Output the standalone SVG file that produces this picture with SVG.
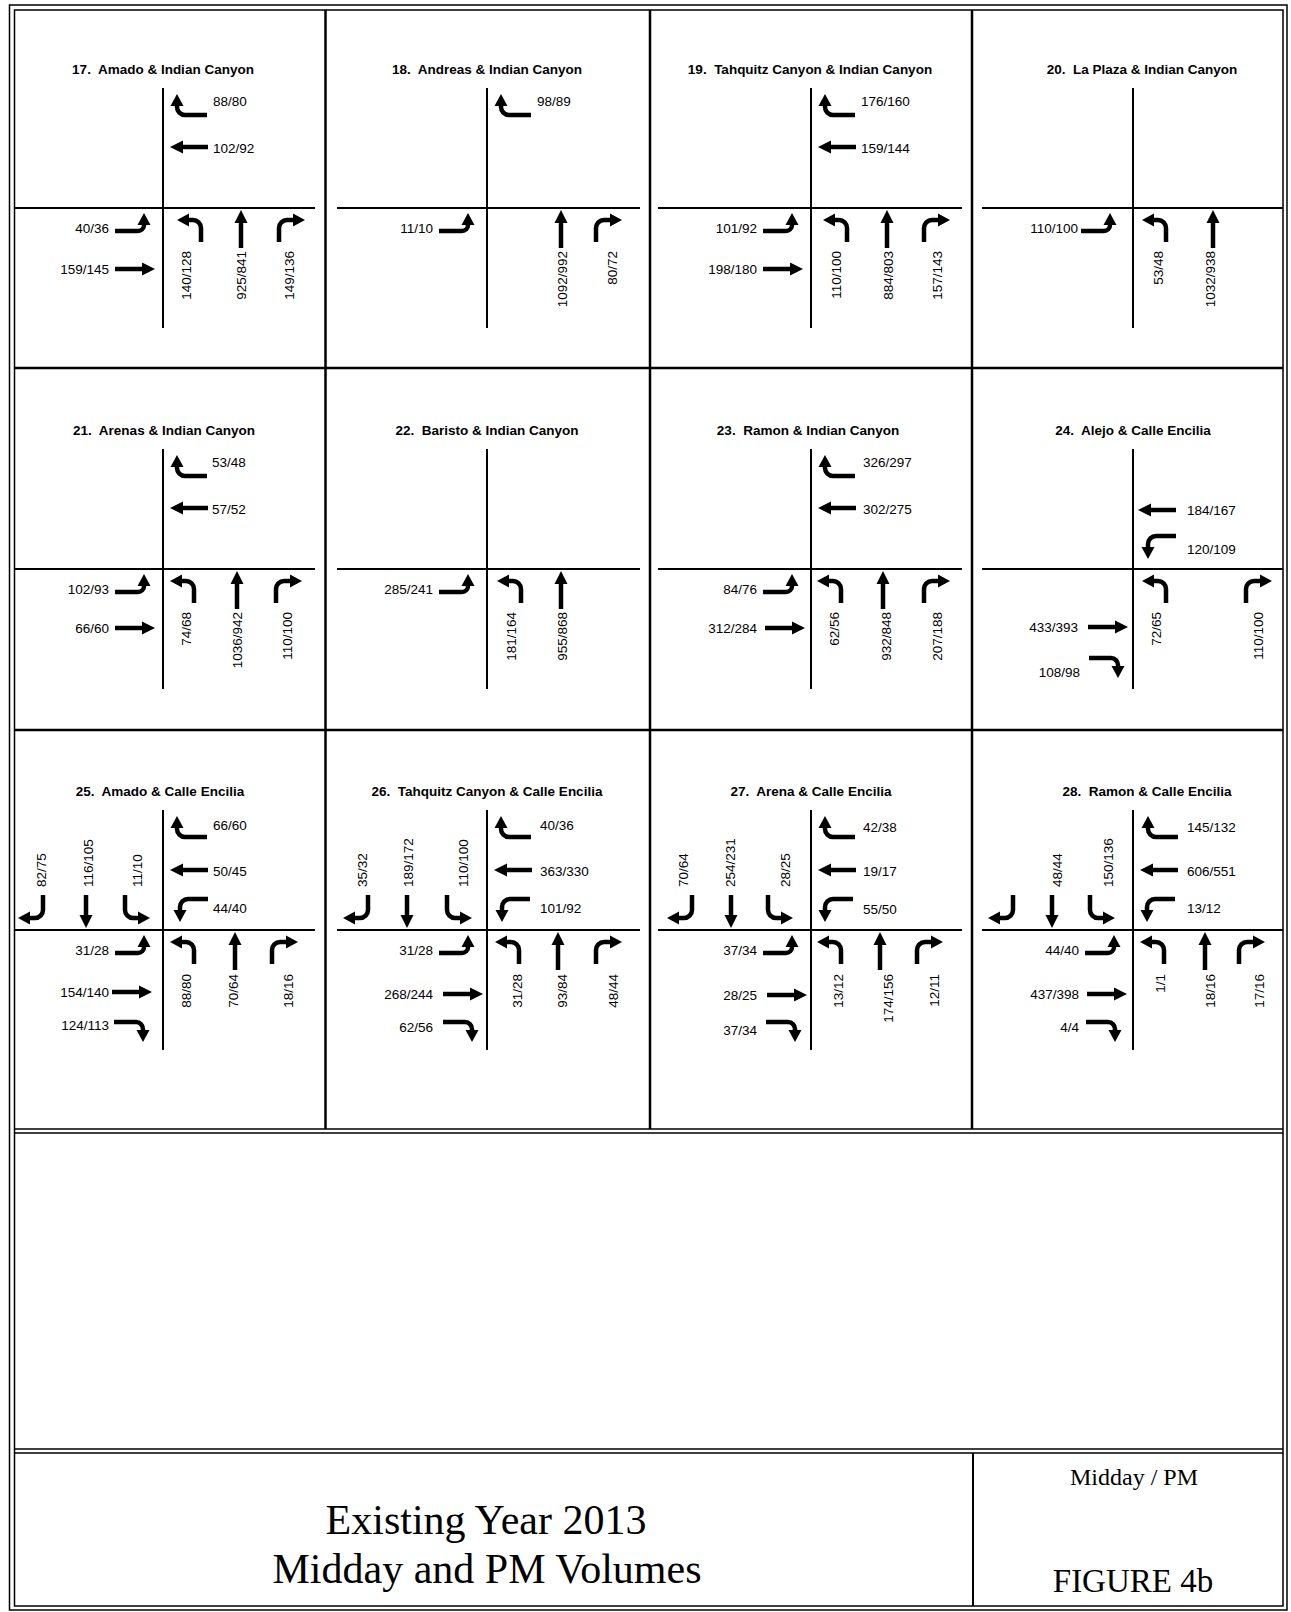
<svg xmlns="http://www.w3.org/2000/svg" width="1291" height="1612" viewBox="0 0 1291 1612">
<style>
.road{stroke:#000;stroke-width:2;fill:none}
.arr{stroke:#000;stroke-width:4.5;fill:none}
.hd{fill:#000}
.fr{stroke:#000;fill:none}
text{font-family:"Liberation Sans",Arial,sans-serif;font-size:13.5px;fill:#000}
.ttl{font-weight:bold;text-anchor:middle}
.e{text-anchor:end}
text.big{font-family:"Liberation Serif","Times New Roman",serif;text-anchor:middle;font-size:42px}
text.mid{font-size:24px}
text.fig{font-size:33px}
</style>
<defs>
<g id="nbT"><path class="arr" d="M0,11V38"/><path class="hd" d="M0,0L-6.5,13H6.5Z"/></g>
<g id="sbT"><path class="arr" d="M0,-11V-33"/><path class="hd" d="M0,0L-6.5,-13H6.5Z"/></g>
<g id="wbT"><path class="arr" d="M11,0H38"/><path class="hd" d="M0,0L13,-6.5V6.5Z"/></g>
<g id="ebT"><path class="arr" d="M-11,0H-40"/><path class="hd" d="M0,0L-13,-6.5V6.5Z"/></g>
<g id="wbR"><path class="arr" d="M30,21H8A8,8 0 0 1 0,13V10"/><path class="hd" d="M0,0L-6.5,12H6.5Z"/></g>
<g id="wbL"><path class="arr" d="M28,-23H8A8,8 0 0 0 0,-15V-10"/><path class="hd" d="M0,0L-6.5,-12H6.5Z"/></g>
<g id="ebL"><path class="arr" d="M-29,18H-6A6,6 0 0 0 0,12V10"/><path class="hd" d="M0,0L-6.5,12H6.5Z"/></g>
<g id="ebR"><path class="arr" d="M-29,-20H-7A7,7 0 0 1 0,-13V-10"/><path class="hd" d="M0,0L-6.5,-12H6.5Z"/></g>
<g id="nbL"><path class="arr" d="M24,22V8A8,8 0 0 0 16,0H10"/><path class="hd" d="M0,0L12,-6.5V6.5Z"/></g>
<g id="nbR"><path class="arr" d="M-26,22V8A8,8 0 0 1 -18,0H-10"/><path class="hd" d="M0,0L-12,-6.5V6.5Z"/></g>
<g id="sbR"><path class="arr" d="M25,-23V-8A8,8 0 0 1 17,0H10"/><path class="hd" d="M0,0L12,-6.5V6.5Z"/></g>
<g id="sbL"><path class="arr" d="M-25,-23V-8A8,8 0 0 0 -17,0H-10"/><path class="hd" d="M0,0L-12,-6.5V6.5Z"/></g>
</defs>
<rect width="1291" height="1612" fill="#fff"/>
<g id="frame">
<rect class="fr" x="9.5" y="5" width="1277.5" height="1605" stroke-width="1.5"/>
<rect class="fr" x="14.5" y="10" width="1268.5" height="1596" stroke-width="1.5"/>
<path class="fr" stroke-width="2.5" d="M325.5,10V1129M650,10V1129M972,10V1129M14,368H1283M14,730H1283"/>
<path class="fr" stroke-width="1.5" d="M14,1129H1283M14,1133H1283M14,1449H1283M14,1453H1283"/>
<path class="fr" stroke-width="2" d="M973,1453V1606"/>
</g>
<g id="connectors"/>

<g id="int17">
<path class="road" d="M163,88V328M15,208H315"/>
<text class="ttl" x="163" y="74">17.&#160; Amado &amp; Indian Canyon</text>
<use href="#wbR" x="177" y="94"/><text x="213" y="106">88/80</text>
<use href="#wbT" x="170" y="147"/><text x="213" y="153">102/92</text>
<use href="#ebL" x="144" y="213"/><text class="e" x="109" y="233">40/36</text>
<use href="#ebT" x="155" y="269"/><text class="e" x="109" y="274">159/145</text>
<use href="#nbL" x="177" y="220"/><text class="e" transform="translate(191,251) rotate(-90)">140/128</text>
<use href="#nbT" x="241" y="210"/><text class="e" transform="translate(246,251) rotate(-90)">925/841</text>
<use href="#nbR" x="305" y="220"/><text class="e" transform="translate(294,251) rotate(-90)">149/136</text>
</g>

<g id="int18">
<path class="road" d="M487,88V328M337,208H640"/>
<text class="ttl" x="487" y="74">18.&#160; Andreas &amp; Indian Canyon</text>
<use href="#wbR" x="501" y="94"/><text x="537" y="106">98/89</text>
<use href="#ebL" x="468" y="213"/><text class="e" x="433" y="233">11/10</text>
<use href="#nbT" x="561" y="210"/><text class="e" transform="translate(567,251) rotate(-90)">1092/992</text>
<use href="#nbR" x="622" y="220"/><text class="e" transform="translate(617,251) rotate(-90)">80/72</text>
</g>

<g id="int19">
<path class="road" d="M811,88V328M658,208H962"/>
<text class="ttl" x="810" y="74">19.&#160; Tahquitz Canyon &amp; Indian Canyon</text>
<use href="#wbR" x="825" y="94"/><text x="861" y="106">176/160</text>
<use href="#wbT" x="818" y="147"/><text x="861" y="153">159/144</text>
<use href="#ebL" x="792" y="213"/><text class="e" x="757" y="233">101/92</text>
<use href="#ebT" x="803" y="269"/><text class="e" x="757" y="274">198/180</text>
<use href="#nbL" x="823" y="220"/><text class="e" transform="translate(841,251) rotate(-90)">110/100</text>
<use href="#nbT" x="887" y="210"/><text class="e" transform="translate(893,251) rotate(-90)">884/803</text>
<use href="#nbR" x="950" y="220"/><text class="e" transform="translate(942,251) rotate(-90)">157/143</text>
</g>

<g id="int20">
<path class="road" d="M1133,88V328M982,208H1283"/>
<text class="ttl" x="1142" y="74">20.&#160; La Plaza &amp; Indian Canyon</text>
<use href="#ebL" x="1110" y="213"/><text class="e" x="1078" y="233">110/100</text>
<use href="#nbL" x="1142" y="220"/><text class="e" transform="translate(1163,251) rotate(-90)">53/48</text>
<use href="#nbT" x="1213" y="210"/><text class="e" transform="translate(1215,251) rotate(-90)">1032/938</text>
</g>

<g id="int21">
<path class="road" d="M163,449V689M15,569H315"/>
<text class="ttl" x="164" y="435">21.&#160; Arenas &amp; Indian Canyon</text>
<use href="#wbR" x="177" y="455"/><text x="212" y="467">53/48</text>
<use href="#wbT" x="170" y="508"/><text x="212" y="514">57/52</text>
<use href="#ebL" x="144" y="574"/><text class="e" x="109" y="594">102/93</text>
<use href="#ebT" x="155" y="628"/><text class="e" x="109" y="633">66/60</text>
<use href="#nbL" x="170" y="581"/><text class="e" transform="translate(191,612) rotate(-90)">74/68</text>
<use href="#nbT" x="237" y="571"/><text class="e" transform="translate(242,612) rotate(-90)">1036/942</text>
<use href="#nbR" x="302" y="581"/><text class="e" transform="translate(292,612) rotate(-90)">110/100</text>
</g>

<g id="int22">
<path class="road" d="M487,449V689M337,569H640"/>
<text class="ttl" x="487" y="435">22.&#160; Baristo &amp; Indian Canyon</text>
<use href="#ebL" x="468" y="574"/><text class="e" x="433" y="594">285/241</text>
<use href="#nbL" x="497" y="581"/><text class="e" transform="translate(516,612) rotate(-90)">181/164</text>
<use href="#nbT" x="561" y="571"/><text class="e" transform="translate(567,612) rotate(-90)">955/868</text>
</g>

<g id="int23">
<path class="road" d="M811,449V689M658,569H962"/>
<text class="ttl" x="808" y="435">23.&#160; Ramon &amp; Indian Canyon</text>
<use href="#wbR" x="825" y="455"/><text x="863" y="467">326/297</text>
<use href="#wbT" x="818" y="508"/><text x="863" y="514">302/275</text>
<use href="#ebL" x="792" y="574"/><text class="e" x="757" y="594">84/76</text>
<use href="#ebT" x="805" y="628"/><text class="e" x="757" y="633">312/284</text>
<use href="#nbL" x="817" y="581"/><text class="e" transform="translate(839,612) rotate(-90)">62/56</text>
<use href="#nbT" x="883" y="571"/><text class="e" transform="translate(891,612) rotate(-90)">932/848</text>
<use href="#nbR" x="950" y="581"/><text class="e" transform="translate(942,612) rotate(-90)">207/188</text>
</g>

<g id="int24">
<path class="road" d="M1133,449V689M982,569H1283"/>
<text class="ttl" x="1133" y="435">24.&#160; Alejo &amp; Calle Encilia</text>
<use href="#wbT" x="1138" y="510"/><text x="1187" y="515">184/167</text>
<use href="#wbL" x="1148" y="559"/><text x="1187" y="554">120/109</text>
<use href="#ebT" x="1128" y="627"/><text class="e" x="1078" y="632">433/393</text>
<use href="#ebR" x="1118" y="678"/><text class="e" x="1080" y="677">108/98</text>
<use href="#nbL" x="1142" y="581"/><text class="e" transform="translate(1161,612) rotate(-90)">72/65</text>
<use href="#nbR" x="1272" y="581"/><text class="e" transform="translate(1263,612) rotate(-90)">110/100</text>
</g>

<g id="int25">
<path class="road" d="M163,810V1050M15,930H315"/>
<text class="ttl" x="160" y="796">25.&#160; Amado &amp; Calle Encilia</text>
<use href="#sbR" x="18" y="918"/><text transform="translate(46,887) rotate(-90)">82/75</text>
<use href="#sbT" x="86" y="928"/><text transform="translate(93,887) rotate(-90)">116/105</text>
<use href="#sbL" x="150" y="918"/><text transform="translate(142,887) rotate(-90)">11/10</text>
<use href="#wbR" x="177" y="816"/><text x="213" y="830">66/60</text>
<use href="#wbT" x="170" y="870"/><text x="213" y="876">50/45</text>
<use href="#wbL" x="180" y="922"/><text x="213" y="913">44/40</text>
<use href="#ebL" x="144" y="935"/><text class="e" x="109" y="955">31/28</text>
<use href="#ebT" x="152" y="992"/><text class="e" x="109" y="997">154/140</text>
<use href="#ebR" x="143" y="1042"/><text class="e" x="109" y="1030">124/113</text>
<use href="#nbL" x="170" y="942"/><text class="e" transform="translate(191,974) rotate(-90)">88/80</text>
<use href="#nbT" x="235" y="932"/><text class="e" transform="translate(238,974) rotate(-90)">70/64</text>
<use href="#nbR" x="298" y="942"/><text class="e" transform="translate(293,974) rotate(-90)">18/16</text>
</g>

<g id="int26">
<path class="road" d="M487,810V1050M337,930H640"/>
<text class="ttl" x="487" y="796">26.&#160; Tahquitz Canyon &amp; Calle Encilia</text>
<use href="#sbR" x="343" y="918"/><text transform="translate(367,887) rotate(-90)">35/32</text>
<use href="#sbT" x="407" y="928"/><text transform="translate(413,887) rotate(-90)">189/172</text>
<use href="#sbL" x="472" y="918"/><text transform="translate(468,887) rotate(-90)">110/100</text>
<use href="#wbR" x="501" y="816"/><text x="540" y="830">40/36</text>
<use href="#wbT" x="494" y="870"/><text x="540" y="876">363/330</text>
<use href="#wbL" x="502" y="922"/><text x="540" y="913">101/92</text>
<use href="#ebL" x="468" y="935"/><text class="e" x="433" y="955">31/28</text>
<use href="#ebT" x="483" y="994"/><text class="e" x="433" y="999">268/244</text>
<use href="#ebR" x="472" y="1042"/><text class="e" x="433" y="1032">62/56</text>
<use href="#nbL" x="495" y="942"/><text class="e" transform="translate(522,974) rotate(-90)">31/28</text>
<use href="#nbT" x="558" y="932"/><text class="e" transform="translate(567,974) rotate(-90)">93/84</text>
<use href="#nbR" x="622" y="942"/><text class="e" transform="translate(618,974) rotate(-90)">48/44</text>
</g>

<g id="int27">
<path class="road" d="M811,810V1050M658,930H962"/>
<text class="ttl" x="811" y="796">27.&#160; Arena &amp; Calle Encilia</text>
<use href="#sbR" x="667" y="918"/><text transform="translate(688,887) rotate(-90)">70/64</text>
<use href="#sbT" x="731" y="928"/><text transform="translate(735,887) rotate(-90)">254/231</text>
<use href="#sbL" x="793" y="918"/><text transform="translate(790,887) rotate(-90)">28/25</text>
<use href="#wbR" x="825" y="816"/><text x="863" y="832">42/38</text>
<use href="#wbT" x="818" y="870"/><text x="863" y="876">19/17</text>
<use href="#wbL" x="825" y="922"/><text x="863" y="914">55/50</text>
<use href="#ebL" x="792" y="935"/><text class="e" x="757" y="955">37/34</text>
<use href="#ebT" x="807" y="995"/><text class="e" x="757" y="1000">28/25</text>
<use href="#ebR" x="795" y="1042"/><text class="e" x="757" y="1035">37/34</text>
<use href="#nbL" x="817" y="942"/><text class="e" transform="translate(843,974) rotate(-90)">13/12</text>
<use href="#nbT" x="880" y="932"/><text class="e" transform="translate(893,974) rotate(-90)">174/156</text>
<use href="#nbR" x="943" y="942"/><text class="e" transform="translate(939,974) rotate(-90)">12/11</text>
</g>

<g id="int28">
<path class="road" d="M1133,810V1050M982,930H1283"/>
<text class="ttl" x="1147" y="796">28.&#160; Ramon &amp; Calle Encilia</text>
<use href="#sbR" x="988" y="918"/>
<use href="#sbT" x="1052" y="928"/><text transform="translate(1062,887) rotate(-90)">48/44</text>
<use href="#sbL" x="1115" y="918"/><text transform="translate(1113,887) rotate(-90)">150/136</text>
<use href="#wbR" x="1148" y="816"/><text x="1187" y="832">145/132</text>
<use href="#wbT" x="1140" y="870"/><text x="1187" y="876">606/551</text>
<use href="#wbL" x="1147" y="922"/><text x="1187" y="913">13/12</text>
<use href="#ebL" x="1114" y="935"/><text class="e" x="1079" y="955">44/40</text>
<use href="#ebT" x="1127" y="994"/><text class="e" x="1079" y="999">437/398</text>
<use href="#ebR" x="1115" y="1042"/><text class="e" x="1079" y="1032">4/4</text>
<use href="#nbL" x="1140" y="942"/><text class="e" transform="translate(1165,974) rotate(-90)">1/1</text>
<use href="#nbT" x="1205" y="932"/><text class="e" transform="translate(1215,974) rotate(-90)">18/16</text>
<use href="#nbR" x="1265" y="942"/><text class="e" transform="translate(1264,974) rotate(-90)">17/16</text>
</g>

<g id="titleblock">
<text class="big" x="486" y="1534">Existing Year 2013</text>
<text class="big" x="487" y="1583">Midday and PM Volumes</text>
<text class="big mid" x="1134" y="1485">Midday / PM</text>
<text class="big fig" x="1133" y="1592">FIGURE 4b</text>
</g>
</svg>
